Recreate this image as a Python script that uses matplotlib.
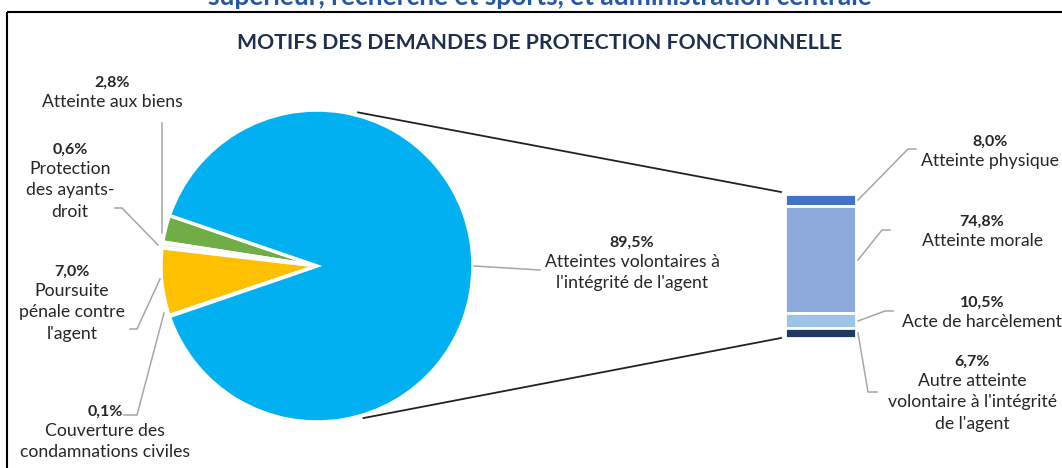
import numpy as np
import matplotlib.pyplot as plt
from matplotlib.patches import Rectangle

# pie: motifs des demandes
pie_labels = ["Atteinte aux biens", "Protection\ndes ayants-\ndroit",
              "Poursuite\npénale contre\nl'agent", "Couverture des\ncondamnations civiles",
              "Atteintes volontaires à\nl'intégrité de l'agent"]
pie_values = [2.8, 0.6, 7.0, 0.1, 89.5]
pie_colors = ["#70AD47", "#F2F2F2", "#FFC000", "#D9D9D9", "#00B0F0"]

# barre: détail des atteintes volontaires (du haut vers le bas)
bar_labels = ["Atteinte physique", "Atteinte morale", "Acte de harcèlement",
              "Autre atteinte\nvolontaire à l'intégrité\nde l'agent"]
bar_values = [8.0, 74.8, 10.5, 6.7]
bar_colors = ["#4472C4", "#8EA9DB", "#9DC3E6", "#203864"]

W, H = 1062, 468
FONT = "Lato"
TXT = "#262626"
LEAD = "#A6A6A6"

fig = plt.figure(figsize=(W / 100, H / 100), dpi=100)
ax = fig.add_axes([0, 0, 1, 1])

# pie (y axis inverted -> clockwise in data = counterclockwise on screen)
cx, cy, r = 317, 266, 156
explode = [0.02, 0.02, 0.02, 0.02, 0]
ax.pie(pie_values, colors=pie_colors, startangle=-161.1, counterclock=False,
       center=(cx, cy), radius=r, explode=explode, frame=True,
       wedgeprops=dict(edgecolor="white", linewidth=2.5))

# stacked bar
bx, bw = 820.5, 71
bar_top, bar_bot = 194, 338
k = (bar_bot - bar_top) / sum(bar_values)
top = bar_top
for v, c in zip(bar_values, bar_colors):
    ax.bar(bx, v * k, bottom=top, width=bw, color=c, edgecolor="white",
           linewidth=2, align="center")
    top += v * k

# connectors pie -> bar
for ang, yb in [(75, bar_top - 2), (-73, bar_bot)]:
    a = np.radians(ang)
    x0, y0 = cx + (r + 3) * np.cos(a), cy - (r + 3) * np.sin(a)
    ax.plot([x0, bx - bw / 2 - 4], [y0, yb], color="#222222", lw=1.3)

# leader lines
leaders = [
    [(162, 123), (162, 233)],
    [(115, 208), (122, 208), (158, 245)],
    [(130, 329), (137, 329), (160, 279)],
    [(124, 415), (137, 415), (164, 313)],
    [(474, 266), (540, 270)],
    [(858, 200), (908, 149), (916, 149)],
    [(858, 260), (882, 230), (890, 230)],
    [(858, 321), (885, 311), (893, 311)],
    [(858, 333), (868, 392), (877, 392)],
]
for pts in leaders:
    xs, ys = zip(*pts)
    ax.plot(xs, ys, color=LEAD, lw=1.1)

# labels (value + name)
pie_pos = [(112, 83), (70, 150), (72, 272), (105, 412), (632, 243)]
bar_pos = [(990, 142), (982, 222), (982, 303), (972, 362)]


def label(x, y, val, name):
    ax.text(x, y, f"{val:.1f}%".replace(".", ","), ha="center", va="center",
            fontsize=11.5, fontweight="bold", color=TXT, family=FONT)
    ax.text(x, y + 11, name, ha="center", va="top", fontsize=12.7,
            color=TXT, family=FONT, linespacing=1.42)


for (x, y), v, n in zip(pie_pos, pie_values, pie_labels):
    label(x, y, v, n)
for (x, y), v, n in zip(bar_pos, bar_values, bar_labels):
    label(x, y, v, n)

# titles and frame
ax.text(540, 43, "MOTIFS DES DEMANDES DE PROTECTION FONCTIONNELLE", ha="center",
        va="center", fontsize=15.3, fontweight="bold", color="#1F2F4F", family=FONT)
ax.text(540, 5, "supérieur, recherche et sports, et administration centrale",
        ha="center", va="baseline", fontsize=19, fontweight="bold",
        color="#2457A8", family=FONT)
ax.add_patch(Rectangle((7, 12), 1100, 500, fill=False, edgecolor="black", lw=1.5))

ax.set_xlim(0, W)
ax.set_ylim(H, 0)
ax.set_aspect("auto")
ax.axis("off")

fig.savefig("out.png", dpi=100)
